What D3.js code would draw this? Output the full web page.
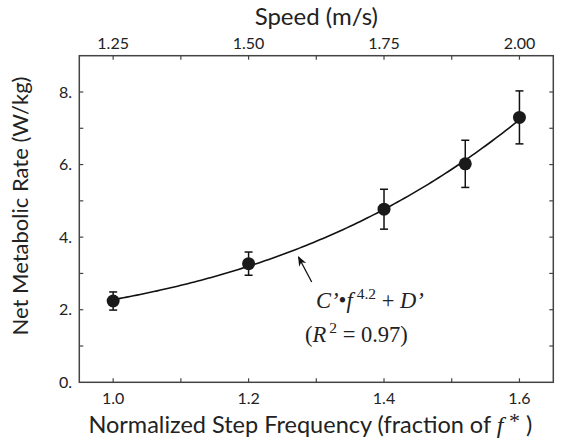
<!DOCTYPE html>
<html><head><meta charset="utf-8">
<script src="https://cdn.jsdelivr.net/npm/d3@7"></script>
<style>body{margin:0;background:#fff}svg{display:block}</style>
</head><body>
<svg id="c" width="564" height="444"></svg>
<script>
// Data
const stepFreq = [1.0, 1.2, 1.4, 1.52, 1.6];
const metRate  = [2.24, 3.27, 4.77, 6.02, 7.30];
const errBar   = [0.25, 0.32, 0.55, 0.65, 0.73];
const fitC = 0.80, fitD = 1.478, fitExp = 4.2;
const xTickLabels = [1.0, 1.2, 1.4, 1.6];
const speedTickLabels = ["1.25", "1.50", "1.75", "2.00"];
const yTickLabels = [0, 2, 4, 6, 8];

const svg = d3.select("#c");
const L = 79.3, R = 553.3, T = 55.7, B = 382.3;
const x = d3.scaleLinear().domain([0.95, 1.65]).range([L, R]);
const y = d3.scaleLinear().domain([0, 9]).range([B, T]);
const speed = d3.scaleLinear().domain([0.95*1.25, 1.65*1.25]).range([L, R]);
const ink = "#222";
const sans = "Lato, 'Open Sans', sans-serif";
const serif = "'Liberation Serif', 'DejaVu Serif', serif";

// Frame
svg.append("rect").attr("x", L).attr("y", T).attr("width", R-L).attr("height", B-T)
  .attr("fill", "none").attr("stroke", "#444").attr("stroke-width", 1.5);

const tl = 4;
const xMinor = d3.range(1.0, 1.61, 0.1);
const yMinor = d3.range(1, 9, 1);
const tg = svg.append("g").attr("stroke", "#444").attr("stroke-width", 1.2);
xMinor.forEach(v => {
  tg.append("line").attr("x1", x(v)).attr("x2", x(v)).attr("y1", B).attr("y2", B - tl);
  tg.append("line").attr("x1", x(v)).attr("x2", x(v)).attr("y1", T).attr("y2", T + tl);
});
yMinor.forEach(v => {
  tg.append("line").attr("y1", y(v)).attr("y2", y(v)).attr("x1", L).attr("x2", L + tl);
  tg.append("line").attr("y1", y(v)).attr("y2", y(v)).attr("x1", R).attr("x2", R - tl);
});

// Tick labels
xTickLabels.forEach(v => {
  svg.append("text").attr("x", x(v)).attr("y", 404).attr("text-anchor", "middle")
    .attr("font-family", sans).attr("font-size", 16).attr("fill", ink).text(v.toFixed(1));
});
speedTickLabels.forEach(s => {
  svg.append("text").attr("x", speed(+s)).attr("y", 49).attr("text-anchor", "middle")
    .attr("font-family", sans).attr("font-size", 16).attr("fill", ink).text(s);
});
yTickLabels.forEach(v => {
  svg.append("text").attr("x", 72).attr("y", y(v) + 5.6).attr("text-anchor", "end")
    .attr("font-family", sans).attr("font-size", 16).attr("fill", ink).text(v + ".");
});

// Titles
svg.append("text").attr("x", (L+R)/2).attr("y", 25).attr("text-anchor", "middle")
  .attr("font-family", sans).attr("font-size", 24).attr("fill", ink).text("Speed (m/s)");
const bt = svg.append("text").attr("x", (L+R)/2 - 6).attr("y", 433).attr("text-anchor", "middle")
  .attr("font-family", sans).attr("font-size", 23.5).attr("fill", ink);
bt.append("tspan").text("Normalized Step Frequency (fraction of ");
bt.append("tspan").attr("font-family", serif).attr("font-style", "italic").attr("font-size", 24).text("f");
bt.append("tspan").attr("font-family", serif).attr("font-size", 22).attr("dy", -5).text(" *");
bt.append("tspan").attr("dy", 5).text(" )");
svg.append("text").attr("transform", `translate(28,${(T+B)/2 - 13}) rotate(-90)`)
  .attr("text-anchor", "middle").attr("font-family", sans).attr("font-size", 22)
  .attr("fill", ink).text("Net Metabolic Rate (W/kg)");

// Fit curve
const curveX = d3.range(1.0, 1.6001, 0.005);
const line = d3.line().x(f => x(f)).y(f => y(fitC * Math.pow(f, fitExp) + fitD)).curve(d3.curveLinear);
svg.append("path").attr("d", line(curveX)).attr("fill", "none").attr("stroke", "#111").attr("stroke-width", 1.6);

// Error bars
const eg = svg.append("g").attr("stroke", "#111").attr("stroke-width", 1.5);
stepFreq.forEach((f, i) => {
  const cx = x(f), hi = y(metRate[i] + errBar[i]), lo = y(metRate[i] - errBar[i]);
  eg.append("line").attr("x1", cx).attr("x2", cx).attr("y1", hi).attr("y2", lo);
  eg.append("line").attr("x1", cx - 4).attr("x2", cx + 4).attr("y1", hi).attr("y2", hi);
  eg.append("line").attr("x1", cx - 4).attr("x2", cx + 4).attr("y1", lo).attr("y2", lo);
});
svg.selectAll("circle.pt").data(stepFreq).join("circle").attr("class", "pt")
  .attr("cx", d => x(d)).attr("cy", (d, i) => y(metRate[i])).attr("r", 6.5).attr("fill", "#1a1a1a");

// Arrow annotation
svg.append("defs").append("marker").attr("id", "ah").attr("viewBox", "0 0 10 10")
  .attr("refX", 9).attr("refY", 5).attr("markerWidth", 10).attr("markerHeight", 10)
  .attr("markerUnits", "userSpaceOnUse").attr("orient", "auto")
  .append("path").attr("d", "M0,1 L10,5 L0,9 L3,5 Z").attr("fill", "#111");
svg.append("line").attr("x1", 311.7).attr("y1", 282).attr("x2", 298.5).attr("y2", 257)
  .attr("stroke", "#111").attr("stroke-width", 1.3).attr("marker-end", "url(#ah)");

const a1 = svg.append("text").attr("x", 316).attr("y", 308).attr("font-family", serif)
  .attr("font-size", 22.5).attr("fill", "#222");
a1.append("tspan").attr("font-style", "italic").text("C’");
a1.append("tspan").text("•");
a1.append("tspan").attr("font-style", "italic").text("f");
a1.append("tspan").attr("font-size", 15.5).attr("dy", -9).attr("dx", 4).text("4.2");
a1.append("tspan").attr("dy", 9).text(" + ");
a1.append("tspan").attr("font-style", "italic").text("D’");

const a2 = svg.append("text").attr("x", 305).attr("y", 342).attr("font-family", serif)
  .attr("font-size", 22.5).attr("fill", "#222");
a2.append("tspan").text("(");
a2.append("tspan").attr("font-style", "italic").text("R");
a2.append("tspan").attr("font-size", 15.5).attr("dy", -9).attr("dx", 3).text("2");
a2.append("tspan").attr("dy", 9).text(" = 0.97)");
</script>
</body></html>
